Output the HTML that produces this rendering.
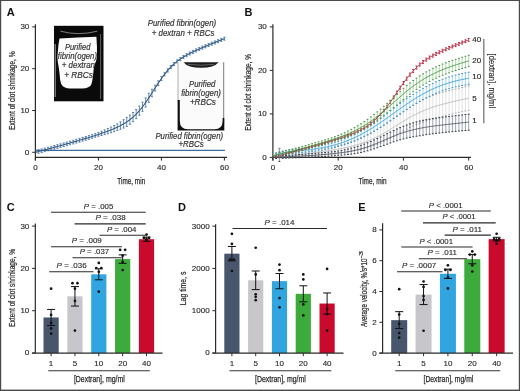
<!DOCTYPE html>
<html><head><meta charset="utf-8"><style>
html,body{margin:0;padding:0;background:#fff;}
svg{display:block;will-change:transform;font-family:"Liberation Sans", sans-serif;}
</style></head><body>
<svg width="520" height="391" viewBox="0 0 520 391">
<rect x="0" y="0" width="520" height="391" fill="#fff"/>
<rect x="0" y="0" width="520" height="1" fill="#4a4a4a"/>
<rect x="0" y="0" width="1.2" height="391" fill="#4a4a4a"/>
<rect x="518.8" y="0" width="1.2" height="391" fill="#4a4a4a"/>
<rect x="0" y="389.6" width="520" height="1.4" fill="#4a4a4a"/>
<text x="6.80" y="16.20" font-size="11" fill="#111" font-weight="bold" >A</text>
<line x1="35.40" y1="24.30" x2="35.40" y2="160.50" stroke="#2a2a2a" stroke-width="1.2" />
<line x1="32.20" y1="152.30" x2="35.40" y2="152.30" stroke="#2a2a2a" stroke-width="1" />
<text x="29.30" y="154.70" font-size="8" fill="#262626" stroke="#262626" stroke-width="0.12" text-anchor="end" >0</text>
<line x1="32.20" y1="110.50" x2="35.40" y2="110.50" stroke="#2a2a2a" stroke-width="1" />
<text x="29.30" y="112.90" font-size="8" fill="#262626" stroke="#262626" stroke-width="0.12" text-anchor="end" >10</text>
<line x1="32.20" y1="68.70" x2="35.40" y2="68.70" stroke="#2a2a2a" stroke-width="1" />
<text x="29.30" y="71.10" font-size="8" fill="#262626" stroke="#262626" stroke-width="0.12" text-anchor="end" >20</text>
<line x1="32.20" y1="26.90" x2="35.40" y2="26.90" stroke="#2a2a2a" stroke-width="1" />
<text x="29.30" y="29.30" font-size="8" fill="#262626" stroke="#262626" stroke-width="0.12" text-anchor="end" >30</text>
<line x1="35.40" y1="157.40" x2="227.00" y2="157.40" stroke="#2a2a2a" stroke-width="1.2" />
<line x1="35.40" y1="157.40" x2="35.40" y2="160.60" stroke="#2a2a2a" stroke-width="1" />
<text x="35.40" y="170.40" font-size="8" fill="#262626" stroke="#262626" stroke-width="0.12" text-anchor="middle" >0</text>
<line x1="98.40" y1="157.40" x2="98.40" y2="160.60" stroke="#2a2a2a" stroke-width="1" />
<text x="98.40" y="170.40" font-size="8" fill="#262626" stroke="#262626" stroke-width="0.12" text-anchor="middle" >20</text>
<line x1="161.40" y1="157.40" x2="161.40" y2="160.60" stroke="#2a2a2a" stroke-width="1" />
<text x="161.40" y="170.40" font-size="8" fill="#262626" stroke="#262626" stroke-width="0.12" text-anchor="middle" >40</text>
<line x1="224.40" y1="157.40" x2="224.40" y2="160.60" stroke="#2a2a2a" stroke-width="1" />
<text x="224.40" y="170.40" font-size="8" fill="#262626" stroke="#262626" stroke-width="0.12" text-anchor="middle" >60</text>
<text x="117.30" y="183.60" font-size="9.8" fill="#262626" stroke="#262626" stroke-width="0.25" textLength="27.9" lengthAdjust="spacingAndGlyphs" >Time, min</text>
<text x="14.80" y="130.00" font-size="8.8" fill="#262626" stroke="#262626" stroke-width="0.2" textLength="78.6" lengthAdjust="spacingAndGlyphs" transform="rotate(-90 14.80 130.00)" >Extent of clot shrinkage, %</text>
<line x1="35.40" y1="150.40" x2="225.00" y2="150.40" stroke="#3e6d9c" stroke-width="1.2" />
<path d="M38.55,149.73V153.25M37.45,149.73h2.2M37.45,153.25h2.2M41.70,148.91V152.44M40.60,148.91h2.2M40.60,152.44h2.2M44.85,148.07V151.62M43.75,148.07h2.2M43.75,151.62h2.2M48.00,147.24V150.80M46.90,147.24h2.2M46.90,150.80h2.2M51.15,146.39V149.97M50.05,146.39h2.2M50.05,149.97h2.2M54.30,145.54V149.12M53.20,145.54h2.2M53.20,149.12h2.2M57.45,144.68V148.28M56.35,144.68h2.2M56.35,148.28h2.2M60.60,143.81V147.42M59.50,143.81h2.2M59.50,147.42h2.2M63.75,142.93V146.55M62.65,142.93h2.2M62.65,146.55h2.2M66.90,142.05V145.68M65.80,142.05h2.2M65.80,145.68h2.2M70.05,141.15V144.80M68.95,141.15h2.2M68.95,144.80h2.2M73.20,140.25V143.91M72.10,140.25h2.2M72.10,143.91h2.2M76.35,139.33V143.01M75.25,139.33h2.2M75.25,143.01h2.2M79.50,138.41V142.10M78.40,138.41h2.2M78.40,142.10h2.2M82.65,137.48V141.18M81.55,137.48h2.2M81.55,141.18h2.2M85.80,136.53V140.24M84.70,136.53h2.2M84.70,140.24h2.2M88.95,135.56V139.29M87.85,135.56h2.2M87.85,139.29h2.2M92.10,134.58V138.32M91.00,134.58h2.2M91.00,138.32h2.2M95.25,133.58V137.33M94.15,133.58h2.2M94.15,137.33h2.2M98.40,132.55V136.31M97.30,132.55h2.2M97.30,136.31h2.2M101.55,131.25V135.50M100.45,131.25h2.2M100.45,135.50h2.2M104.70,129.91V134.64M103.60,129.91h2.2M103.60,134.64h2.2M107.85,128.51V133.74M106.75,128.51h2.2M106.75,133.74h2.2M111.00,127.05V132.76M109.90,127.05h2.2M109.90,132.76h2.2M114.15,125.50V131.70M113.05,125.50h2.2M113.05,131.70h2.2M117.30,123.84V130.52M116.20,123.84h2.2M116.20,130.52h2.2M120.45,121.86V129.38M119.35,121.86h2.2M119.35,129.38h2.2M123.60,119.70V128.06M122.50,119.70h2.2M122.50,128.06h2.2M126.75,117.31V126.50M125.65,117.31h2.2M125.65,126.50h2.2M129.90,115.05V124.25M128.80,115.05h2.2M128.80,124.25h2.2M133.05,112.46V121.66M131.95,112.46h2.2M131.95,121.66h2.2M136.20,109.48V118.68M135.10,109.48h2.2M135.10,118.68h2.2M139.35,106.07V115.26M138.25,106.07h2.2M138.25,115.26h2.2M142.50,102.20V111.40M141.40,102.20h2.2M141.40,111.40h2.2M145.65,97.92V107.11M144.55,97.92h2.2M144.55,107.11h2.2M148.80,93.28V102.47M147.70,93.28h2.2M147.70,102.47h2.2M151.95,89.24V96.76M150.85,89.24h2.2M150.85,96.76h2.2M155.10,85.12V90.98M154.00,85.12h2.2M154.00,90.98h2.2M158.25,80.86V85.51M157.15,80.86h2.2M157.15,85.51h2.2M161.40,76.61V80.53M160.30,76.61h2.2M160.30,80.53h2.2M164.55,72.72V75.89M163.45,72.72h2.2M163.45,75.89h2.2M167.70,68.87V72.04M166.60,68.87h2.2M166.60,72.04h2.2M170.85,65.46V68.62M169.75,65.46h2.2M169.75,68.62h2.2M174.00,62.46V65.61M172.90,62.46h2.2M172.90,65.61h2.2M177.15,59.83V62.97M176.05,59.83h2.2M176.05,62.97h2.2M180.30,57.52V60.65M179.20,57.52h2.2M179.20,60.65h2.2M183.45,55.46V58.58M182.35,55.46h2.2M182.35,58.58h2.2M186.60,53.60V56.72M185.50,53.60h2.2M185.50,56.72h2.2M189.75,51.91V55.02M188.65,51.91h2.2M188.65,55.02h2.2M192.90,50.34V53.44M191.80,50.34h2.2M191.80,53.44h2.2M196.05,48.86V51.95M194.95,48.86h2.2M194.95,51.95h2.2M199.20,47.45V50.53M198.10,47.45h2.2M198.10,50.53h2.2M202.35,46.10V49.17M201.25,46.10h2.2M201.25,49.17h2.2M205.50,44.77V47.84M204.40,44.77h2.2M204.40,47.84h2.2M208.65,43.48V46.53M207.55,43.48h2.2M207.55,46.53h2.2M211.80,42.20V45.24M210.70,42.20h2.2M210.70,45.24h2.2M214.95,40.93V43.96M213.85,40.93h2.2M213.85,43.96h2.2M218.10,39.67V42.69M217.00,39.67h2.2M217.00,42.69h2.2M221.25,38.41V41.42M220.15,38.41h2.2M220.15,41.42h2.2M224.40,37.15V40.16M223.30,37.15h2.2M223.30,40.16h2.2" stroke="#3d6896" stroke-width="0.75" fill="none"/>
<path d="M35.40,152.30 L36.19,152.10 L36.98,151.90 L37.76,151.69 L38.55,151.49 L39.34,151.29 L40.12,151.08 L40.91,150.88 L41.70,150.67 L42.49,150.47 L43.27,150.26 L44.06,150.06 L44.85,149.85 L45.64,149.64 L46.42,149.43 L47.21,149.23 L48.00,149.02 L48.79,148.81 L49.57,148.60 L50.36,148.39 L51.15,148.18 L51.94,147.97 L52.72,147.76 L53.51,147.54 L54.30,147.33 L55.09,147.12 L55.88,146.90 L56.66,146.69 L57.45,146.48 L58.24,146.26 L59.02,146.05 L59.81,145.83 L60.60,145.61 L61.39,145.40 L62.17,145.18 L62.96,144.96 L63.75,144.74 L64.54,144.52 L65.33,144.30 L66.11,144.08 L66.90,143.86 L67.69,143.64 L68.47,143.42 L69.26,143.20 L70.05,142.98 L70.84,142.75 L71.62,142.53 L72.41,142.30 L73.20,142.08 L73.99,141.85 L74.78,141.63 L75.56,141.40 L76.35,141.17 L77.14,140.94 L77.92,140.71 L78.71,140.49 L79.50,140.25 L80.29,140.02 L81.07,139.79 L81.86,139.56 L82.65,139.33 L83.44,139.09 L84.22,138.86 L85.01,138.62 L85.80,138.38 L86.59,138.15 L87.38,137.91 L88.16,137.67 L88.95,137.43 L89.74,137.18 L90.53,136.94 L91.31,136.70 L92.10,136.45 L92.89,136.20 L93.67,135.95 L94.46,135.70 L95.25,135.45 L96.04,135.20 L96.82,134.94 L97.61,134.69 L98.40,134.43 L99.19,134.17 L99.97,133.90 L100.76,133.64 L101.55,133.37 L102.34,133.10 L103.12,132.83 L103.91,132.55 L104.70,132.27 L105.49,131.99 L106.28,131.71 L107.06,131.42 L107.85,131.12 L108.64,130.83 L109.42,130.52 L110.21,130.22 L111.00,129.90 L111.79,129.59 L112.57,129.26 L113.36,128.93 L114.15,128.60 L114.94,128.26 L115.72,127.91 L116.51,127.55 L117.30,127.18 L118.09,126.80 L118.88,126.42 L119.66,126.02 L120.45,125.62 L121.24,125.20 L122.03,124.77 L122.81,124.33 L123.60,123.88 L124.39,123.41 L125.17,122.92 L125.96,122.42 L126.75,121.90 L127.54,121.37 L128.32,120.82 L129.11,120.24 L129.90,119.65 L130.69,119.04 L131.47,118.40 L132.26,117.74 L133.05,117.06 L133.84,116.35 L134.62,115.62 L135.41,114.86 L136.20,114.08 L136.99,113.27 L137.78,112.43 L138.56,111.56 L139.35,110.66 L140.14,109.74 L140.92,108.79 L141.71,107.81 L142.50,106.80 L143.29,105.77 L144.07,104.71 L144.86,103.62 L145.65,102.51 L146.44,101.38 L147.22,100.23 L148.01,99.06 L148.80,97.87 L149.59,96.67 L150.38,95.46 L151.16,94.23 L151.95,93.00 L152.74,91.76 L153.53,90.52 L154.31,89.29 L155.10,88.05 L155.89,86.82 L156.67,85.60 L157.46,84.39 L158.25,83.19 L159.04,82.01 L159.82,80.84 L160.61,79.69 L161.40,78.57 L162.19,77.47 L162.97,76.39 L163.76,75.33 L164.55,74.30 L165.34,73.30 L166.12,72.33 L166.91,71.38 L167.70,70.46 L168.49,69.56 L169.28,68.70 L170.06,67.85 L170.85,67.04 L171.64,66.25 L172.43,65.49 L173.21,64.75 L174.00,64.04 L174.79,63.35 L175.57,62.68 L176.36,62.03 L177.15,61.40 L177.94,60.80 L178.72,60.21 L179.51,59.64 L180.30,59.08 L181.09,58.54 L181.88,58.02 L182.66,57.51 L183.45,57.02 L184.24,56.54 L185.03,56.07 L185.81,55.61 L186.60,55.16 L187.39,54.72 L188.18,54.29 L188.96,53.87 L189.75,53.46 L190.54,53.06 L191.32,52.66 L192.11,52.27 L192.90,51.89 L193.69,51.51 L194.47,51.14 L195.26,50.77 L196.05,50.41 L196.84,50.05 L197.62,49.69 L198.41,49.34 L199.20,48.99 L199.99,48.65 L200.78,48.31 L201.56,47.97 L202.35,47.63 L203.14,47.30 L203.93,46.96 L204.71,46.63 L205.50,46.30 L206.29,45.98 L207.07,45.65 L207.86,45.33 L208.65,45.00 L209.44,44.68 L210.22,44.36 L211.01,44.04 L211.80,43.72 L212.59,43.40 L213.38,43.08 L214.16,42.76 L214.95,42.45 L215.74,42.13 L216.53,41.81 L217.31,41.50 L218.10,41.18 L218.89,40.86 L219.68,40.55 L220.46,40.23 L221.25,39.92 L222.04,39.60 L222.82,39.28 L223.61,38.97 L224.40,38.65" stroke="#2f5a86" stroke-width="1.1" fill="none"/>
<rect x="54" y="25.8" width="49.5" height="75.5" fill="#0a0a0a"/>
<path d="M60.4,31.2 Q78.5,36 97.3,31.2" stroke="#8a8a8a" stroke-width="0.9" fill="none"/>
<path d="M59.5,38.6 Q78,37.2 96.4,36.8 Q97.3,47 96.9,57 Q96.4,61 94.8,64 Q93.6,68 93.2,74 Q92.6,80 91.5,84 Q89.8,88.4 82,88.5 L70,88.6 Q63.5,88.4 61.2,84 Q59.8,80 59.6,74 Q59.0,68 57.8,62 Q57.0,57 57.8,52 Q58.4,44 59.5,38.6 Z" fill="#fcfcfc"/>
<line x1="100.6" y1="34" x2="100.6" y2="99" stroke="#6a6a6a" stroke-width="0.9"/>
<line x1="55.2" y1="44" x2="55.2" y2="97" stroke="#cfcfcf" stroke-width="0.8"/>
<text x="77.65" y="49.50" font-size="8.5" fill="#333" stroke="#333" stroke-width="0.18" text-anchor="middle" font-style="italic" textLength="25.5" lengthAdjust="spacingAndGlyphs" >Purified</text>
<text x="77.40" y="58.80" font-size="8.5" fill="#333" stroke="#333" stroke-width="0.18" text-anchor="middle" font-style="italic" textLength="39.2" lengthAdjust="spacingAndGlyphs" >fibrin(ogen)</text>
<text x="78.40" y="68.10" font-size="8.5" fill="#333" stroke="#333" stroke-width="0.18" text-anchor="middle" font-style="italic" textLength="33.2" lengthAdjust="spacingAndGlyphs" >+ dextran</text>
<text x="78.50" y="77.80" font-size="8.5" fill="#333" stroke="#333" stroke-width="0.18" text-anchor="middle" font-style="italic" textLength="28.6" lengthAdjust="spacingAndGlyphs" >+ RBCs</text>
<rect x="177.6" y="61.8" width="46.7" height="68.6" fill="#fbfbfb"/>
<line x1="178.0" y1="62.3" x2="178.0" y2="101" stroke="#9a9a9a" stroke-width="0.8"/>
<line x1="223.7" y1="62.3" x2="223.7" y2="124" stroke="#7a7a7a" stroke-width="1.0"/>
<path d="M177.6,100 H179.8 V121 Q179.8,129.2 188,129.2 H214.5 Q222.6,129.2 222.6,121 V118 H224.3 V130.4 H177.6 Z" fill="#101010"/>
<path d="M183.5,62.2 H218.7 Q214,67.8 201,67.8 Q188,67.8 183.5,62.2 Z" fill="#1c1c1c"/>
<path d="M188,64.3 Q201,66.2 214,64.3" stroke="#6a6a6a" stroke-width="0.9" fill="none"/>
<text x="202.15" y="86.60" font-size="8.5" fill="#333" stroke="#333" stroke-width="0.18" text-anchor="middle" font-style="italic" textLength="26.3" lengthAdjust="spacingAndGlyphs" >Purified</text>
<text x="201.10" y="96.00" font-size="8.5" fill="#333" stroke="#333" stroke-width="0.18" text-anchor="middle" font-style="italic" textLength="39.8" lengthAdjust="spacingAndGlyphs" >fibrin(ogen)</text>
<text x="202.85" y="105.40" font-size="8.5" fill="#333" stroke="#333" stroke-width="0.18" text-anchor="middle" font-style="italic" textLength="25.9" lengthAdjust="spacingAndGlyphs" >+RBCs</text>
<text x="181.95" y="26.40" font-size="8.5" fill="#333" stroke="#333" stroke-width="0.18" text-anchor="middle" font-style="italic" textLength="68.3" lengthAdjust="spacingAndGlyphs" >Purified fibrin(ogen)</text>
<text x="183.10" y="35.60" font-size="8.5" fill="#333" stroke="#333" stroke-width="0.18" text-anchor="middle" font-style="italic" textLength="62.6" lengthAdjust="spacingAndGlyphs" >+ dextran + RBCs</text>
<text x="189.25" y="138.50" font-size="8.5" fill="#333" stroke="#333" stroke-width="0.18" text-anchor="middle" font-style="italic" textLength="67.7" lengthAdjust="spacingAndGlyphs" >Purified fibrin(ogen)</text>
<text x="191.15" y="147.40" font-size="8.5" fill="#333" stroke="#333" stroke-width="0.18" text-anchor="middle" font-style="italic" textLength="25.3" lengthAdjust="spacingAndGlyphs" >+RBCs</text>
<text x="244.60" y="16.20" font-size="11" fill="#111" font-weight="bold" >B</text>
<line x1="272.90" y1="24.30" x2="272.90" y2="160.50" stroke="#2a2a2a" stroke-width="1.2" />
<line x1="269.70" y1="157.40" x2="272.90" y2="157.40" stroke="#2a2a2a" stroke-width="1" />
<text x="266.80" y="159.80" font-size="8" fill="#262626" stroke="#262626" stroke-width="0.12" text-anchor="end" >0</text>
<line x1="269.70" y1="113.90" x2="272.90" y2="113.90" stroke="#2a2a2a" stroke-width="1" />
<text x="266.80" y="116.30" font-size="8" fill="#262626" stroke="#262626" stroke-width="0.12" text-anchor="end" >10</text>
<line x1="269.70" y1="70.40" x2="272.90" y2="70.40" stroke="#2a2a2a" stroke-width="1" />
<text x="266.80" y="72.80" font-size="8" fill="#262626" stroke="#262626" stroke-width="0.12" text-anchor="end" >20</text>
<line x1="269.70" y1="26.90" x2="272.90" y2="26.90" stroke="#2a2a2a" stroke-width="1" />
<text x="266.80" y="29.30" font-size="8" fill="#262626" stroke="#262626" stroke-width="0.12" text-anchor="end" >30</text>
<line x1="272.90" y1="157.40" x2="471.00" y2="157.40" stroke="#2a2a2a" stroke-width="1.2" />
<line x1="272.90" y1="157.40" x2="272.90" y2="160.60" stroke="#2a2a2a" stroke-width="1" />
<text x="272.90" y="170.10" font-size="8" fill="#262626" stroke="#262626" stroke-width="0.12" text-anchor="middle" >0</text>
<line x1="338.17" y1="157.40" x2="338.17" y2="160.60" stroke="#2a2a2a" stroke-width="1" />
<text x="338.17" y="170.10" font-size="8" fill="#262626" stroke="#262626" stroke-width="0.12" text-anchor="middle" >20</text>
<line x1="403.43" y1="157.40" x2="403.43" y2="160.60" stroke="#2a2a2a" stroke-width="1" />
<text x="403.43" y="170.10" font-size="8" fill="#262626" stroke="#262626" stroke-width="0.12" text-anchor="middle" >40</text>
<line x1="468.70" y1="157.40" x2="468.70" y2="160.60" stroke="#2a2a2a" stroke-width="1" />
<text x="468.70" y="170.10" font-size="8" fill="#262626" stroke="#262626" stroke-width="0.12" text-anchor="middle" >60</text>
<text x="358.50" y="183.70" font-size="9.6" fill="#262626" stroke="#262626" stroke-width="0.25" textLength="28" lengthAdjust="spacingAndGlyphs" >Time, min</text>
<text x="250.80" y="130.80" font-size="8.8" fill="#262626" stroke="#262626" stroke-width="0.2" textLength="76.7" lengthAdjust="spacingAndGlyphs" transform="rotate(-90 250.80 130.80)" >Extent of clot shrinkage, %</text>
<path d="M276.16,155.64V158.47M279.43,155.20V158.24M282.69,154.75V158.01M285.95,154.30V157.78M289.22,153.84V157.54M292.48,153.37V157.29M295.74,152.90V157.03M299.01,152.42V156.77M302.27,151.93V156.50M305.53,151.43V156.22M308.80,150.92V155.93M312.06,150.40V155.62M315.32,149.87V155.31M318.59,149.33V154.98M321.85,148.76V154.64M325.11,148.18V154.27M328.38,147.58V153.89M331.64,146.96V153.48M334.90,146.30V153.04M338.17,145.61V152.57M341.43,144.64V152.30M344.69,143.63V151.98M347.96,142.57V151.61M351.22,141.44V151.19M354.48,140.25V150.69M357.75,138.97V150.11M361.01,137.61V149.44M364.27,136.14V148.67M367.54,134.57V147.80M370.80,132.88V146.80M374.06,131.07V145.69M377.33,129.14V144.45M380.59,127.09V143.09M383.85,124.92V141.62M387.12,122.66V140.06M390.38,120.45V138.28M393.64,118.19V136.46M396.91,115.90V134.61M400.17,113.63V132.77M403.43,111.39V130.96M406.70,109.21V129.22M409.96,107.12V127.56M413.22,105.13V126.01M416.49,103.24V124.56M419.75,101.47V123.22M423.01,99.82V122.00M426.28,98.27V120.89M429.54,96.83V119.88M432.80,95.47V118.96M436.07,94.20V118.13M439.33,93.20V117.17M442.59,92.26V116.27M445.86,91.37V115.42M449.12,90.52V114.62M452.38,89.72V113.86M455.65,88.94V113.13M458.91,88.20V112.42M462.17,87.47V111.74M465.44,86.75V111.07M468.70,86.05V110.41" stroke="#cfcfcf" stroke-width="0.6" fill="none"/>
<path d="M275.26,155.64h1.8M275.26,158.47h1.8M278.53,155.20h1.8M278.53,158.24h1.8M281.79,154.75h1.8M281.79,158.01h1.8M285.05,154.30h1.8M285.05,157.78h1.8M288.32,153.84h1.8M288.32,157.54h1.8M291.58,153.37h1.8M291.58,157.29h1.8M294.84,152.90h1.8M294.84,157.03h1.8M298.11,152.42h1.8M298.11,156.77h1.8M301.37,151.93h1.8M301.37,156.50h1.8M304.63,151.43h1.8M304.63,156.22h1.8M307.90,150.92h1.8M307.90,155.93h1.8M311.16,150.40h1.8M311.16,155.62h1.8M314.42,149.87h1.8M314.42,155.31h1.8M317.69,149.33h1.8M317.69,154.98h1.8M320.95,148.76h1.8M320.95,154.64h1.8M324.21,148.18h1.8M324.21,154.27h1.8M327.48,147.58h1.8M327.48,153.89h1.8M330.74,146.96h1.8M330.74,153.48h1.8M334.00,146.30h1.8M334.00,153.04h1.8M337.27,145.61h1.8M337.27,152.57h1.8M340.53,144.64h1.8M340.53,152.30h1.8M343.79,143.63h1.8M343.79,151.98h1.8M347.06,142.57h1.8M347.06,151.61h1.8M350.32,141.44h1.8M350.32,151.19h1.8M353.58,140.25h1.8M353.58,150.69h1.8M356.85,138.97h1.8M356.85,150.11h1.8M360.11,137.61h1.8M360.11,149.44h1.8M363.37,136.14h1.8M363.37,148.67h1.8M366.64,134.57h1.8M366.64,147.80h1.8M369.90,132.88h1.8M369.90,146.80h1.8M373.16,131.07h1.8M373.16,145.69h1.8M376.43,129.14h1.8M376.43,144.45h1.8M379.69,127.09h1.8M379.69,143.09h1.8M382.95,124.92h1.8M382.95,141.62h1.8M386.22,122.66h1.8M386.22,140.06h1.8M389.48,120.45h1.8M389.48,138.28h1.8M392.74,118.19h1.8M392.74,136.46h1.8M396.01,115.90h1.8M396.01,134.61h1.8M399.27,113.63h1.8M399.27,132.77h1.8M402.53,111.39h1.8M402.53,130.96h1.8M405.80,109.21h1.8M405.80,129.22h1.8M409.06,107.12h1.8M409.06,127.56h1.8M412.32,105.13h1.8M412.32,126.01h1.8M415.59,103.24h1.8M415.59,124.56h1.8M418.85,101.47h1.8M418.85,123.22h1.8M422.11,99.82h1.8M422.11,122.00h1.8M425.38,98.27h1.8M425.38,120.89h1.8M428.64,96.83h1.8M428.64,119.88h1.8M431.90,95.47h1.8M431.90,118.96h1.8M435.17,94.20h1.8M435.17,118.13h1.8M438.43,93.20h1.8M438.43,117.17h1.8M441.69,92.26h1.8M441.69,116.27h1.8M444.96,91.37h1.8M444.96,115.42h1.8M448.22,90.52h1.8M448.22,114.62h1.8M451.48,89.72h1.8M451.48,113.86h1.8M454.75,88.94h1.8M454.75,113.13h1.8M458.01,88.20h1.8M458.01,112.42h1.8M461.27,87.47h1.8M461.27,111.74h1.8M464.54,86.75h1.8M464.54,111.07h1.8M467.80,86.05h1.8M467.80,110.41h1.8" stroke="#a8a8a8" stroke-width="1.0" fill="none"/>
<path d="M272.90,157.38 L273.72,157.30 L274.53,157.22 L275.35,157.14 L276.16,157.05 L276.98,156.97 L277.79,156.89 L278.61,156.80 L279.43,156.72 L280.24,156.64 L281.06,156.55 L281.87,156.47 L282.69,156.38 L283.51,156.30 L284.32,156.21 L285.14,156.12 L285.95,156.04 L286.77,155.95 L287.58,155.86 L288.40,155.78 L289.22,155.69 L290.03,155.60 L290.85,155.51 L291.66,155.42 L292.48,155.33 L293.30,155.24 L294.11,155.15 L294.93,155.06 L295.74,154.97 L296.56,154.87 L297.38,154.78 L298.19,154.69 L299.01,154.59 L299.82,154.50 L300.64,154.40 L301.45,154.31 L302.27,154.21 L303.09,154.12 L303.90,154.02 L304.72,153.92 L305.53,153.82 L306.35,153.73 L307.16,153.63 L307.98,153.53 L308.80,153.42 L309.61,153.32 L310.43,153.22 L311.24,153.12 L312.06,153.01 L312.88,152.91 L313.69,152.80 L314.51,152.70 L315.32,152.59 L316.14,152.48 L316.95,152.37 L317.77,152.26 L318.59,152.15 L319.40,152.04 L320.22,151.93 L321.03,151.82 L321.85,151.70 L322.67,151.58 L323.48,151.47 L324.30,151.35 L325.11,151.23 L325.93,151.11 L326.75,150.99 L327.56,150.86 L328.38,150.74 L329.19,150.61 L330.01,150.48 L330.82,150.35 L331.64,150.22 L332.46,150.08 L333.27,149.95 L334.09,149.81 L334.90,149.67 L335.72,149.53 L336.53,149.39 L337.35,149.24 L338.17,149.09 L338.98,148.94 L339.80,148.79 L340.61,148.63 L341.43,148.47 L342.25,148.31 L343.06,148.15 L343.88,147.98 L344.69,147.81 L345.51,147.63 L346.32,147.46 L347.14,147.28 L347.96,147.09 L348.77,146.90 L349.59,146.71 L350.40,146.51 L351.22,146.31 L352.04,146.11 L352.85,145.90 L353.67,145.68 L354.48,145.47 L355.30,145.24 L356.12,145.01 L356.93,144.78 L357.75,144.54 L358.56,144.29 L359.38,144.04 L360.19,143.79 L361.01,143.52 L361.83,143.25 L362.64,142.98 L363.46,142.70 L364.27,142.41 L365.09,142.11 L365.90,141.81 L366.72,141.50 L367.54,141.18 L368.35,140.86 L369.17,140.53 L369.98,140.19 L370.80,139.84 L371.62,139.49 L372.43,139.13 L373.25,138.76 L374.06,138.38 L374.88,138.00 L375.69,137.60 L376.51,137.20 L377.33,136.80 L378.14,136.38 L378.96,135.96 L379.77,135.53 L380.59,135.09 L381.41,134.65 L382.22,134.19 L383.04,133.74 L383.85,133.27 L384.67,132.80 L385.49,132.33 L386.30,131.84 L387.12,131.36 L387.93,130.87 L388.75,130.37 L389.56,129.87 L390.38,129.37 L391.20,128.86 L392.01,128.35 L392.83,127.84 L393.64,127.32 L394.46,126.81 L395.27,126.29 L396.09,125.77 L396.91,125.26 L397.72,124.74 L398.54,124.22 L399.35,123.71 L400.17,123.20 L400.99,122.69 L401.80,122.18 L402.62,121.68 L403.43,121.18 L404.25,120.68 L405.06,120.19 L405.88,119.70 L406.70,119.22 L407.51,118.74 L408.33,118.27 L409.14,117.80 L409.96,117.34 L410.78,116.89 L411.59,116.44 L412.41,116.00 L413.22,115.57 L414.04,115.14 L414.86,114.72 L415.67,114.31 L416.49,113.90 L417.30,113.50 L418.12,113.11 L418.93,112.73 L419.75,112.35 L420.57,111.98 L421.38,111.62 L422.20,111.26 L423.01,110.91 L423.83,110.57 L424.64,110.23 L425.46,109.90 L426.28,109.58 L427.09,109.27 L427.91,108.96 L428.72,108.65 L429.54,108.35 L430.36,108.06 L431.17,107.77 L431.99,107.49 L432.80,107.22 L433.62,106.95 L434.44,106.68 L435.25,106.42 L436.07,106.16 L436.88,105.91 L437.70,105.66 L438.51,105.42 L439.33,105.18 L440.15,104.95 L440.96,104.71 L441.78,104.49 L442.59,104.26 L443.41,104.04 L444.23,103.82 L445.04,103.61 L445.86,103.40 L446.67,103.19 L447.49,102.98 L448.30,102.78 L449.12,102.57 L449.94,102.37 L450.75,102.18 L451.57,101.98 L452.38,101.79 L453.20,101.60 L454.01,101.41 L454.83,101.22 L455.65,101.04 L456.46,100.85 L457.28,100.67 L458.09,100.49 L458.91,100.31 L459.73,100.13 L460.54,99.95 L461.36,99.78 L462.17,99.60 L462.99,99.43 L463.81,99.26 L464.62,99.08 L465.44,98.91 L466.25,98.74 L467.07,98.57 L467.88,98.40 L468.70,98.23" stroke="#b0b0b0" stroke-width="0.8" fill="none"/>
<path d="M276.16,155.93V158.54M279.43,152.73V161.43M282.69,155.63V158.24M285.95,155.42V158.13M289.22,155.21V158.02M292.48,155.00V157.91M295.74,154.78V157.80M299.01,154.56V157.68M302.27,154.33V157.56M305.53,154.10V157.43M308.80,153.86V157.29M312.06,153.61V157.14M315.32,153.35V156.99M318.59,153.08V156.82M321.85,152.79V156.63M325.11,152.49V156.43M328.38,152.16V156.20M331.64,151.81V155.95M334.90,151.42V155.67M338.17,151.00V155.35M341.43,150.38V155.13M344.69,149.71V154.87M347.96,148.98V154.54M351.22,148.18V154.15M354.48,147.30V153.68M357.75,146.33V153.12M361.01,145.27V152.46M364.27,144.11V151.71M367.54,142.85V150.86M370.80,141.49V149.90M374.06,140.05V148.86M377.33,138.52V147.75M380.59,136.94V146.57M383.85,135.33V145.36M387.12,133.71V144.15M390.38,132.10V142.97M393.64,130.53V141.84M396.91,129.02V140.77M400.17,127.60V139.78M403.43,126.27V138.88M406.70,125.03V138.08M409.96,123.88V137.37M413.22,122.83V136.75M416.49,121.86V136.21M419.75,120.96V135.75M423.01,120.30V135.18M426.28,119.70V134.66M429.54,119.14V134.19M432.80,118.63V133.77M436.07,118.15V133.37M439.33,117.69V133.00M442.59,117.26V132.65M445.86,116.84V132.32M449.12,116.43V132.00M452.38,116.03V131.69M455.65,115.64V131.39M458.91,115.25V131.09M462.17,114.86V130.79M465.44,114.48V130.49M468.70,114.09V130.18" stroke="#5e6678" stroke-width="0.6" fill="none"/>
<path d="M275.26,155.93h1.8M275.26,158.54h1.8M278.53,152.73h1.8M278.53,161.43h1.8M281.79,155.63h1.8M281.79,158.24h1.8M285.05,155.42h1.8M285.05,158.13h1.8M288.32,155.21h1.8M288.32,158.02h1.8M291.58,155.00h1.8M291.58,157.91h1.8M294.84,154.78h1.8M294.84,157.80h1.8M298.11,154.56h1.8M298.11,157.68h1.8M301.37,154.33h1.8M301.37,157.56h1.8M304.63,154.10h1.8M304.63,157.43h1.8M307.90,153.86h1.8M307.90,157.29h1.8M311.16,153.61h1.8M311.16,157.14h1.8M314.42,153.35h1.8M314.42,156.99h1.8M317.69,153.08h1.8M317.69,156.82h1.8M320.95,152.79h1.8M320.95,156.63h1.8M324.21,152.49h1.8M324.21,156.43h1.8M327.48,152.16h1.8M327.48,156.20h1.8M330.74,151.81h1.8M330.74,155.95h1.8M334.00,151.42h1.8M334.00,155.67h1.8M337.27,151.00h1.8M337.27,155.35h1.8M340.53,150.38h1.8M340.53,155.13h1.8M343.79,149.71h1.8M343.79,154.87h1.8M347.06,148.98h1.8M347.06,154.54h1.8M350.32,148.18h1.8M350.32,154.15h1.8M353.58,147.30h1.8M353.58,153.68h1.8M356.85,146.33h1.8M356.85,153.12h1.8M360.11,145.27h1.8M360.11,152.46h1.8M363.37,144.11h1.8M363.37,151.71h1.8M366.64,142.85h1.8M366.64,150.86h1.8M369.90,141.49h1.8M369.90,149.90h1.8M373.16,140.05h1.8M373.16,148.86h1.8M376.43,138.52h1.8M376.43,147.75h1.8M379.69,136.94h1.8M379.69,146.57h1.8M382.95,135.33h1.8M382.95,145.36h1.8M386.22,133.71h1.8M386.22,144.15h1.8M389.48,132.10h1.8M389.48,142.97h1.8M392.74,130.53h1.8M392.74,141.84h1.8M396.01,129.02h1.8M396.01,140.77h1.8M399.27,127.60h1.8M399.27,139.78h1.8M402.53,126.27h1.8M402.53,138.88h1.8M405.80,125.03h1.8M405.80,138.08h1.8M409.06,123.88h1.8M409.06,137.37h1.8M412.32,122.83h1.8M412.32,136.75h1.8M415.59,121.86h1.8M415.59,136.21h1.8M418.85,120.96h1.8M418.85,135.75h1.8M422.11,120.30h1.8M422.11,135.18h1.8M425.38,119.70h1.8M425.38,134.66h1.8M428.64,119.14h1.8M428.64,134.19h1.8M431.90,118.63h1.8M431.90,133.77h1.8M435.17,118.15h1.8M435.17,133.37h1.8M438.43,117.69h1.8M438.43,133.00h1.8M441.69,117.26h1.8M441.69,132.65h1.8M444.96,116.84h1.8M444.96,132.32h1.8M448.22,116.43h1.8M448.22,132.00h1.8M451.48,116.03h1.8M451.48,131.69h1.8M454.75,115.64h1.8M454.75,131.39h1.8M458.01,115.25h1.8M458.01,131.09h1.8M461.27,114.86h1.8M461.27,130.79h1.8M464.54,114.48h1.8M464.54,130.49h1.8M467.80,114.09h1.8M467.80,130.18h1.8" stroke="#2f3644" stroke-width="1.0" fill="none"/>
<path d="M272.90,157.38 L273.72,157.35 L274.53,157.31 L275.35,157.27 L276.16,157.23 L276.98,157.20 L277.79,157.16 L278.61,157.12 L279.43,157.08 L280.24,157.05 L281.06,157.01 L281.87,156.97 L282.69,156.93 L283.51,156.89 L284.32,156.85 L285.14,156.81 L285.95,156.77 L286.77,156.74 L287.58,156.70 L288.40,156.66 L289.22,156.62 L290.03,156.58 L290.85,156.54 L291.66,156.50 L292.48,156.46 L293.30,156.41 L294.11,156.37 L294.93,156.33 L295.74,156.29 L296.56,156.25 L297.38,156.21 L298.19,156.16 L299.01,156.12 L299.82,156.08 L300.64,156.03 L301.45,155.99 L302.27,155.95 L303.09,155.90 L303.90,155.86 L304.72,155.81 L305.53,155.76 L306.35,155.72 L307.16,155.67 L307.98,155.62 L308.80,155.58 L309.61,155.53 L310.43,155.48 L311.24,155.43 L312.06,155.38 L312.88,155.33 L313.69,155.28 L314.51,155.22 L315.32,155.17 L316.14,155.12 L316.95,155.06 L317.77,155.01 L318.59,154.95 L319.40,154.89 L320.22,154.83 L321.03,154.77 L321.85,154.71 L322.67,154.65 L323.48,154.59 L324.30,154.52 L325.11,154.46 L325.93,154.39 L326.75,154.32 L327.56,154.25 L328.38,154.18 L329.19,154.11 L330.01,154.03 L330.82,153.96 L331.64,153.88 L332.46,153.80 L333.27,153.72 L334.09,153.63 L334.90,153.54 L335.72,153.46 L336.53,153.36 L337.35,153.27 L338.17,153.17 L338.98,153.07 L339.80,152.97 L340.61,152.87 L341.43,152.76 L342.25,152.65 L343.06,152.53 L343.88,152.41 L344.69,152.29 L345.51,152.16 L346.32,152.03 L347.14,151.90 L347.96,151.76 L348.77,151.62 L349.59,151.47 L350.40,151.32 L351.22,151.16 L352.04,151.00 L352.85,150.84 L353.67,150.66 L354.48,150.49 L355.30,150.31 L356.12,150.12 L356.93,149.92 L357.75,149.72 L358.56,149.52 L359.38,149.31 L360.19,149.09 L361.01,148.87 L361.83,148.64 L362.64,148.40 L363.46,148.16 L364.27,147.91 L365.09,147.66 L365.90,147.40 L366.72,147.13 L367.54,146.85 L368.35,146.57 L369.17,146.29 L369.98,146.00 L370.80,145.70 L371.62,145.40 L372.43,145.09 L373.25,144.77 L374.06,144.45 L374.88,144.13 L375.69,143.80 L376.51,143.47 L377.33,143.13 L378.14,142.79 L378.96,142.45 L379.77,142.11 L380.59,141.76 L381.41,141.41 L382.22,141.05 L383.04,140.70 L383.85,140.35 L384.67,139.99 L385.49,139.64 L386.30,139.28 L387.12,138.93 L387.93,138.58 L388.75,138.23 L389.56,137.88 L390.38,137.53 L391.20,137.19 L392.01,136.85 L392.83,136.51 L393.64,136.18 L394.46,135.85 L395.27,135.53 L396.09,135.21 L396.91,134.89 L397.72,134.58 L398.54,134.28 L399.35,133.98 L400.17,133.69 L400.99,133.40 L401.80,133.12 L402.62,132.84 L403.43,132.57 L404.25,132.31 L405.06,132.05 L405.88,131.80 L406.70,131.55 L407.51,131.31 L408.33,131.08 L409.14,130.85 L409.96,130.62 L410.78,130.41 L411.59,130.20 L412.41,129.99 L413.22,129.79 L414.04,129.59 L414.86,129.40 L415.67,129.21 L416.49,129.03 L417.30,128.86 L418.12,128.68 L418.93,128.52 L419.75,128.35 L420.57,128.19 L421.38,128.04 L422.20,127.89 L423.01,127.74 L423.83,127.59 L424.64,127.45 L425.46,127.31 L426.28,127.18 L427.09,127.05 L427.91,126.92 L428.72,126.79 L429.54,126.67 L430.36,126.55 L431.17,126.43 L431.99,126.31 L432.80,126.20 L433.62,126.09 L434.44,125.97 L435.25,125.87 L436.07,125.76 L436.88,125.65 L437.70,125.55 L438.51,125.45 L439.33,125.35 L440.15,125.25 L440.96,125.15 L441.78,125.05 L442.59,124.96 L443.41,124.86 L444.23,124.77 L445.04,124.67 L445.86,124.58 L446.67,124.49 L447.49,124.40 L448.30,124.31 L449.12,124.22 L449.94,124.13 L450.75,124.04 L451.57,123.95 L452.38,123.86 L453.20,123.77 L454.01,123.69 L454.83,123.60 L455.65,123.51 L456.46,123.43 L457.28,123.34 L458.09,123.25 L458.91,123.17 L459.73,123.08 L460.54,123.00 L461.36,122.91 L462.17,122.82 L462.99,122.74 L463.81,122.65 L464.62,122.57 L465.44,122.48 L466.25,122.40 L467.07,122.31 L467.88,122.22 L468.70,122.14" stroke="#38414f" stroke-width="0.8" fill="none"/>
<path d="M276.16,152.90V156.47M279.43,151.86V155.51M282.69,151.07V154.81M285.95,150.46V154.29M289.22,149.96V153.88M292.48,149.53V153.53M295.74,149.14V153.23M299.01,148.76V152.94M302.27,148.38V152.64M305.53,147.98V152.33M308.80,147.55V151.99M312.06,147.09V151.62M315.32,146.59V151.20M318.59,146.03V150.73M321.85,145.41V150.20M325.11,144.73V149.61M328.38,143.98V148.94M331.64,143.16V148.21M334.90,142.25V147.39M338.17,141.26V146.48M341.43,140.05V145.62M344.69,138.74V144.66M347.96,137.33V143.60M351.22,135.82V142.43M354.48,134.20V141.16M357.75,132.48V139.79M361.01,130.66V138.31M364.27,128.72V136.73M367.54,126.69V135.04M370.80,124.56V133.26M374.06,122.35V131.40M377.33,120.05V129.45M380.59,117.69V127.43M383.85,115.26V125.35M387.12,112.79V123.23M390.38,110.43V120.94M393.64,108.06V118.64M396.91,105.68V116.33M400.17,103.32V114.04M403.43,100.99V111.78M406.70,98.71V109.56M409.96,96.48V107.41M413.22,94.32V105.32M416.49,92.24V103.31M419.75,90.25V101.39M423.01,88.36V99.57M426.28,86.57V97.84M429.54,84.88V96.22M432.80,83.29V94.71M436.07,81.81V93.30M439.33,80.44V91.99M442.59,79.17V90.79M445.86,78.00V89.69M449.12,76.92V88.69M452.38,75.94V87.77M455.65,75.05V86.95M458.91,74.23V86.20M462.17,73.50V85.54M465.44,72.83V84.94M468.70,72.23V84.41" stroke="#6fbde6" stroke-width="0.6" fill="none"/>
<path d="M275.26,152.90h1.8M275.26,156.47h1.8M278.53,151.86h1.8M278.53,155.51h1.8M281.79,151.07h1.8M281.79,154.81h1.8M285.05,150.46h1.8M285.05,154.29h1.8M288.32,149.96h1.8M288.32,153.88h1.8M291.58,149.53h1.8M291.58,153.53h1.8M294.84,149.14h1.8M294.84,153.23h1.8M298.11,148.76h1.8M298.11,152.94h1.8M301.37,148.38h1.8M301.37,152.64h1.8M304.63,147.98h1.8M304.63,152.33h1.8M307.90,147.55h1.8M307.90,151.99h1.8M311.16,147.09h1.8M311.16,151.62h1.8M314.42,146.59h1.8M314.42,151.20h1.8M317.69,146.03h1.8M317.69,150.73h1.8M320.95,145.41h1.8M320.95,150.20h1.8M324.21,144.73h1.8M324.21,149.61h1.8M327.48,143.98h1.8M327.48,148.94h1.8M330.74,143.16h1.8M330.74,148.21h1.8M334.00,142.25h1.8M334.00,147.39h1.8M337.27,141.26h1.8M337.27,146.48h1.8M340.53,140.05h1.8M340.53,145.62h1.8M343.79,138.74h1.8M343.79,144.66h1.8M347.06,137.33h1.8M347.06,143.60h1.8M350.32,135.82h1.8M350.32,142.43h1.8M353.58,134.20h1.8M353.58,141.16h1.8M356.85,132.48h1.8M356.85,139.79h1.8M360.11,130.66h1.8M360.11,138.31h1.8M363.37,128.72h1.8M363.37,136.73h1.8M366.64,126.69h1.8M366.64,135.04h1.8M369.90,124.56h1.8M369.90,133.26h1.8M373.16,122.35h1.8M373.16,131.40h1.8M376.43,120.05h1.8M376.43,129.45h1.8M379.69,117.69h1.8M379.69,127.43h1.8M382.95,115.26h1.8M382.95,125.35h1.8M386.22,112.79h1.8M386.22,123.23h1.8M389.48,110.43h1.8M389.48,120.94h1.8M392.74,108.06h1.8M392.74,118.64h1.8M396.01,105.68h1.8M396.01,116.33h1.8M399.27,103.32h1.8M399.27,114.04h1.8M402.53,100.99h1.8M402.53,111.78h1.8M405.80,98.71h1.8M405.80,109.56h1.8M409.06,96.48h1.8M409.06,107.41h1.8M412.32,94.32h1.8M412.32,105.32h1.8M415.59,92.24h1.8M415.59,103.31h1.8M418.85,90.25h1.8M418.85,101.39h1.8M422.11,88.36h1.8M422.11,99.57h1.8M425.38,86.57h1.8M425.38,97.84h1.8M428.64,84.88h1.8M428.64,96.22h1.8M431.90,83.29h1.8M431.90,94.71h1.8M435.17,81.81h1.8M435.17,93.30h1.8M438.43,80.44h1.8M438.43,91.99h1.8M441.69,79.17h1.8M441.69,90.79h1.8M444.96,78.00h1.8M444.96,89.69h1.8M448.22,76.92h1.8M448.22,88.69h1.8M451.48,75.94h1.8M451.48,87.77h1.8M454.75,75.05h1.8M454.75,86.95h1.8M458.01,74.23h1.8M458.01,86.20h1.8M461.27,73.50h1.8M461.27,85.54h1.8M464.54,72.83h1.8M464.54,84.94h1.8M467.80,72.23h1.8M467.80,84.41h1.8" stroke="#3a8fc2" stroke-width="1.0" fill="none"/>
<path d="M272.90,156.07 L273.72,155.68 L274.53,155.32 L275.35,154.99 L276.16,154.69 L276.98,154.41 L277.79,154.15 L278.61,153.91 L279.43,153.68 L280.24,153.48 L281.06,153.29 L281.87,153.11 L282.69,152.94 L283.51,152.79 L284.32,152.64 L285.14,152.50 L285.95,152.37 L286.77,152.25 L287.58,152.13 L288.40,152.02 L289.22,151.92 L290.03,151.82 L290.85,151.72 L291.66,151.62 L292.48,151.53 L293.30,151.44 L294.11,151.35 L294.93,151.27 L295.74,151.18 L296.56,151.10 L297.38,151.01 L298.19,150.93 L299.01,150.85 L299.82,150.76 L300.64,150.68 L301.45,150.59 L302.27,150.51 L303.09,150.42 L303.90,150.33 L304.72,150.25 L305.53,150.15 L306.35,150.06 L307.16,149.97 L307.98,149.87 L308.80,149.77 L309.61,149.67 L310.43,149.57 L311.24,149.46 L312.06,149.35 L312.88,149.24 L313.69,149.13 L314.51,149.01 L315.32,148.89 L316.14,148.77 L316.95,148.64 L317.77,148.51 L318.59,148.38 L319.40,148.24 L320.22,148.10 L321.03,147.95 L321.85,147.81 L322.67,147.65 L323.48,147.50 L324.30,147.33 L325.11,147.17 L325.93,147.00 L326.75,146.83 L327.56,146.65 L328.38,146.46 L329.19,146.28 L330.01,146.08 L330.82,145.89 L331.64,145.68 L332.46,145.48 L333.27,145.26 L334.09,145.04 L334.90,144.82 L335.72,144.59 L336.53,144.36 L337.35,144.12 L338.17,143.87 L338.98,143.62 L339.80,143.37 L340.61,143.10 L341.43,142.83 L342.25,142.56 L343.06,142.28 L343.88,141.99 L344.69,141.70 L345.51,141.40 L346.32,141.09 L347.14,140.78 L347.96,140.46 L348.77,140.14 L349.59,139.81 L350.40,139.47 L351.22,139.13 L352.04,138.78 L352.85,138.42 L353.67,138.05 L354.48,137.68 L355.30,137.31 L356.12,136.92 L356.93,136.53 L357.75,136.14 L358.56,135.73 L359.38,135.32 L360.19,134.91 L361.01,134.48 L361.83,134.05 L362.64,133.62 L363.46,133.17 L364.27,132.73 L365.09,132.27 L365.90,131.81 L366.72,131.34 L367.54,130.87 L368.35,130.39 L369.17,129.90 L369.98,129.41 L370.80,128.91 L371.62,128.41 L372.43,127.90 L373.25,127.39 L374.06,126.87 L374.88,126.35 L375.69,125.82 L376.51,125.29 L377.33,124.75 L378.14,124.21 L378.96,123.66 L379.77,123.11 L380.59,122.56 L381.41,122.00 L382.22,121.44 L383.04,120.88 L383.85,120.31 L384.67,119.74 L385.49,119.17 L386.30,118.59 L387.12,118.01 L387.93,117.43 L388.75,116.85 L389.56,116.27 L390.38,115.69 L391.20,115.10 L392.01,114.52 L392.83,113.93 L393.64,113.35 L394.46,112.76 L395.27,112.18 L396.09,111.59 L396.91,111.01 L397.72,110.42 L398.54,109.84 L399.35,109.26 L400.17,108.68 L400.99,108.10 L401.80,107.53 L402.62,106.96 L403.43,106.39 L404.25,105.82 L405.06,105.25 L405.88,104.69 L406.70,104.14 L407.51,103.58 L408.33,103.03 L409.14,102.48 L409.96,101.94 L410.78,101.40 L411.59,100.87 L412.41,100.34 L413.22,99.82 L414.04,99.30 L414.86,98.79 L415.67,98.28 L416.49,97.78 L417.30,97.28 L418.12,96.79 L418.93,96.30 L419.75,95.82 L420.57,95.35 L421.38,94.88 L422.20,94.42 L423.01,93.96 L423.83,93.51 L424.64,93.07 L425.46,92.63 L426.28,92.20 L427.09,91.78 L427.91,91.36 L428.72,90.95 L429.54,90.55 L430.36,90.15 L431.17,89.76 L431.99,89.38 L432.80,89.00 L433.62,88.63 L434.44,88.26 L435.25,87.91 L436.07,87.56 L436.88,87.21 L437.70,86.87 L438.51,86.54 L439.33,86.22 L440.15,85.90 L440.96,85.59 L441.78,85.28 L442.59,84.98 L443.41,84.69 L444.23,84.40 L445.04,84.12 L445.86,83.85 L446.67,83.58 L447.49,83.31 L448.30,83.06 L449.12,82.81 L449.94,82.56 L450.75,82.32 L451.57,82.09 L452.38,81.86 L453.20,81.63 L454.01,81.42 L454.83,81.20 L455.65,81.00 L456.46,80.79 L457.28,80.60 L458.09,80.41 L458.91,80.22 L459.73,80.04 L460.54,79.86 L461.36,79.68 L462.17,79.52 L462.99,79.35 L463.81,79.19 L464.62,79.04 L465.44,78.89 L466.25,78.74 L467.07,78.60 L467.88,78.46 L468.70,78.32" stroke="#1f8fcc" stroke-width="0.8" fill="none"/>
<path d="M276.16,155.84V157.16M279.43,154.94V156.27M282.69,154.03V155.38M285.95,153.12V154.48M289.22,152.21V153.59M292.48,151.30V152.69M295.74,150.39V151.80M299.01,149.47V150.89M302.27,148.56V149.99M305.53,147.64V149.09M308.80,146.71V148.18M312.06,145.78V147.26M315.32,144.85V146.34M318.59,143.91V145.41M321.85,142.95V144.48M325.11,141.99V143.53M328.38,141.01V142.57M331.64,140.02V141.59M334.90,139.00V140.58M338.17,137.95V139.55M341.43,136.87V138.48M344.69,135.74V137.36M347.96,134.54V136.18M351.22,133.27V134.92M354.48,131.90V133.57M357.75,130.41V132.09M361.01,128.76V130.46M364.27,126.93V128.64M367.54,124.87V126.59M370.80,122.53V124.27M374.06,119.83V121.70M377.33,116.76V118.76M380.59,113.32V115.45M383.85,109.48V111.74M387.12,105.27V107.66M390.38,100.74V103.26M393.64,95.98V98.64M396.91,91.11V93.90M400.17,86.26V89.17M403.43,81.55V84.59M406.70,77.15V80.19M409.96,73.09V76.11M413.22,69.39V72.40M416.49,66.07V69.07M419.75,63.12V66.10M423.01,60.49V63.45M426.28,58.15V61.10M429.54,56.05V58.99M432.80,54.15V57.08M436.07,52.41V55.32M439.33,50.80V53.70M442.59,49.28V52.17M445.86,47.84V50.71M449.12,46.45V49.31M452.38,45.09V47.94M455.65,43.76V46.60M458.91,42.45V45.27M462.17,41.14V43.95M465.44,39.82V42.62M468.70,38.50V41.29" stroke="#d23a55" stroke-width="0.6" fill="none"/>
<path d="M275.26,155.84h1.8M275.26,157.16h1.8M278.53,154.94h1.8M278.53,156.27h1.8M281.79,154.03h1.8M281.79,155.38h1.8M285.05,153.12h1.8M285.05,154.48h1.8M288.32,152.21h1.8M288.32,153.59h1.8M291.58,151.30h1.8M291.58,152.69h1.8M294.84,150.39h1.8M294.84,151.80h1.8M298.11,149.47h1.8M298.11,150.89h1.8M301.37,148.56h1.8M301.37,149.99h1.8M304.63,147.64h1.8M304.63,149.09h1.8M307.90,146.71h1.8M307.90,148.18h1.8M311.16,145.78h1.8M311.16,147.26h1.8M314.42,144.85h1.8M314.42,146.34h1.8M317.69,143.91h1.8M317.69,145.41h1.8M320.95,142.95h1.8M320.95,144.48h1.8M324.21,141.99h1.8M324.21,143.53h1.8M327.48,141.01h1.8M327.48,142.57h1.8M330.74,140.02h1.8M330.74,141.59h1.8M334.00,139.00h1.8M334.00,140.58h1.8M337.27,137.95h1.8M337.27,139.55h1.8M340.53,136.87h1.8M340.53,138.48h1.8M343.79,135.74h1.8M343.79,137.36h1.8M347.06,134.54h1.8M347.06,136.18h1.8M350.32,133.27h1.8M350.32,134.92h1.8M353.58,131.90h1.8M353.58,133.57h1.8M356.85,130.41h1.8M356.85,132.09h1.8M360.11,128.76h1.8M360.11,130.46h1.8M363.37,126.93h1.8M363.37,128.64h1.8M366.64,124.87h1.8M366.64,126.59h1.8M369.90,122.53h1.8M369.90,124.27h1.8M373.16,119.83h1.8M373.16,121.70h1.8M376.43,116.76h1.8M376.43,118.76h1.8M379.69,113.32h1.8M379.69,115.45h1.8M382.95,109.48h1.8M382.95,111.74h1.8M386.22,105.27h1.8M386.22,107.66h1.8M389.48,100.74h1.8M389.48,103.26h1.8M392.74,95.98h1.8M392.74,98.64h1.8M396.01,91.11h1.8M396.01,93.90h1.8M399.27,86.26h1.8M399.27,89.17h1.8M402.53,81.55h1.8M402.53,84.59h1.8M405.80,77.15h1.8M405.80,80.19h1.8M409.06,73.09h1.8M409.06,76.11h1.8M412.32,69.39h1.8M412.32,72.40h1.8M415.59,66.07h1.8M415.59,69.07h1.8M418.85,63.12h1.8M418.85,66.10h1.8M422.11,60.49h1.8M422.11,63.45h1.8M425.38,58.15h1.8M425.38,61.10h1.8M428.64,56.05h1.8M428.64,58.99h1.8M431.90,54.15h1.8M431.90,57.08h1.8M435.17,52.41h1.8M435.17,55.32h1.8M438.43,50.80h1.8M438.43,53.70h1.8M441.69,49.28h1.8M441.69,52.17h1.8M444.96,47.84h1.8M444.96,50.71h1.8M448.22,46.45h1.8M448.22,49.31h1.8M451.48,45.09h1.8M451.48,47.94h1.8M454.75,43.76h1.8M454.75,46.60h1.8M458.01,42.45h1.8M458.01,45.27h1.8M461.27,41.14h1.8M461.27,43.95h1.8M464.54,39.82h1.8M464.54,42.62h1.8M467.80,38.50h1.8M467.80,41.29h1.8" stroke="#c3112f" stroke-width="1.0" fill="none"/>
<path d="M272.90,157.40 L273.72,157.17 L274.53,156.95 L275.35,156.72 L276.16,156.50 L276.98,156.28 L277.79,156.05 L278.61,155.83 L279.43,155.60 L280.24,155.38 L281.06,155.15 L281.87,154.93 L282.69,154.70 L283.51,154.48 L284.32,154.25 L285.14,154.03 L285.95,153.80 L286.77,153.58 L287.58,153.35 L288.40,153.13 L289.22,152.90 L290.03,152.67 L290.85,152.45 L291.66,152.22 L292.48,152.00 L293.30,151.77 L294.11,151.54 L294.93,151.32 L295.74,151.09 L296.56,150.87 L297.38,150.64 L298.19,150.41 L299.01,150.18 L299.82,149.96 L300.64,149.73 L301.45,149.50 L302.27,149.27 L303.09,149.05 L303.90,148.82 L304.72,148.59 L305.53,148.36 L306.35,148.13 L307.16,147.90 L307.98,147.67 L308.80,147.44 L309.61,147.21 L310.43,146.98 L311.24,146.75 L312.06,146.52 L312.88,146.29 L313.69,146.06 L314.51,145.83 L315.32,145.59 L316.14,145.36 L316.95,145.13 L317.77,144.89 L318.59,144.66 L319.40,144.42 L320.22,144.19 L321.03,143.95 L321.85,143.72 L322.67,143.48 L323.48,143.24 L324.30,143.00 L325.11,142.76 L325.93,142.52 L326.75,142.28 L327.56,142.03 L328.38,141.79 L329.19,141.55 L330.01,141.30 L330.82,141.05 L331.64,140.80 L332.46,140.55 L333.27,140.30 L334.09,140.05 L334.90,139.79 L335.72,139.53 L336.53,139.28 L337.35,139.01 L338.17,138.75 L338.98,138.49 L339.80,138.22 L340.61,137.95 L341.43,137.67 L342.25,137.40 L343.06,137.12 L343.88,136.83 L344.69,136.55 L345.51,136.26 L346.32,135.96 L347.14,135.66 L347.96,135.36 L348.77,135.05 L349.59,134.74 L350.40,134.42 L351.22,134.10 L352.04,133.77 L352.85,133.43 L353.67,133.09 L354.48,132.73 L355.30,132.38 L356.12,132.01 L356.93,131.63 L357.75,131.25 L358.56,130.86 L359.38,130.45 L360.19,130.04 L361.01,129.61 L361.83,129.18 L362.64,128.73 L363.46,128.26 L364.27,127.79 L365.09,127.30 L365.90,126.79 L366.72,126.27 L367.54,125.73 L368.35,125.18 L369.17,124.60 L369.98,124.01 L370.80,123.40 L371.62,122.77 L372.43,122.13 L373.25,121.45 L374.06,120.76 L374.88,120.05 L375.69,119.31 L376.51,118.55 L377.33,117.76 L378.14,116.95 L378.96,116.12 L379.77,115.26 L380.59,114.38 L381.41,113.47 L382.22,112.54 L383.04,111.59 L383.85,110.61 L384.67,109.61 L385.49,108.58 L386.30,107.53 L387.12,106.46 L387.93,105.38 L388.75,104.27 L389.56,103.14 L390.38,102.00 L391.20,100.85 L392.01,99.68 L392.83,98.50 L393.64,97.31 L394.46,96.12 L395.27,94.91 L396.09,93.71 L396.91,92.51 L397.72,91.30 L398.54,90.10 L399.35,88.90 L400.17,87.72 L400.99,86.54 L401.80,85.37 L402.62,84.21 L403.43,83.07 L404.25,81.94 L405.06,80.83 L405.88,79.74 L406.70,78.67 L407.51,77.62 L408.33,76.59 L409.14,75.58 L409.96,74.60 L410.78,73.64 L411.59,72.70 L412.41,71.79 L413.22,70.89 L414.04,70.03 L414.86,69.19 L415.67,68.37 L416.49,67.57 L417.30,66.80 L418.12,66.04 L418.93,65.31 L419.75,64.61 L420.57,63.92 L421.38,63.25 L422.20,62.60 L423.01,61.97 L423.83,61.36 L424.64,60.76 L425.46,60.19 L426.28,59.62 L427.09,59.08 L427.91,58.54 L428.72,58.02 L429.54,57.52 L430.36,57.03 L431.17,56.54 L431.99,56.07 L432.80,55.61 L433.62,55.16 L434.44,54.72 L435.25,54.29 L436.07,53.87 L436.88,53.45 L437.70,53.04 L438.51,52.64 L439.33,52.25 L440.15,51.86 L440.96,51.48 L441.78,51.10 L442.59,50.73 L443.41,50.36 L444.23,49.99 L445.04,49.63 L445.86,49.28 L446.67,48.92 L447.49,48.57 L448.30,48.22 L449.12,47.88 L449.94,47.54 L450.75,47.19 L451.57,46.86 L452.38,46.52 L453.20,46.18 L454.01,45.85 L454.83,45.51 L455.65,45.18 L456.46,44.85 L457.28,44.52 L458.09,44.19 L458.91,43.86 L459.73,43.53 L460.54,43.20 L461.36,42.87 L462.17,42.54 L462.99,42.21 L463.81,41.88 L464.62,41.55 L465.44,41.22 L466.25,40.89 L467.07,40.56 L467.88,40.23 L468.70,39.89" stroke="#901a2b" stroke-width="0.8" fill="none"/>
<path d="M276.16,153.23V156.75M279.43,152.39V155.96M282.69,151.55V155.16M285.95,150.71V154.37M289.22,149.87V153.56M292.48,149.01V152.76M295.74,148.16V151.94M299.01,147.29V151.12M302.27,146.42V150.29M305.53,145.54V149.45M308.80,144.64V148.60M312.06,143.73V147.74M315.32,142.81V146.85M318.59,141.86V145.95M321.85,140.89V145.02M325.11,139.89V144.07M328.38,138.86V143.08M331.64,137.80V142.06M334.90,136.68V140.99M338.17,135.52V139.87M341.43,134.10V138.88M344.69,132.61V137.83M347.96,131.04V136.69M351.22,129.38V135.47M354.48,127.62V134.14M357.75,125.75V132.71M361.01,123.75V131.15M364.27,121.63V129.46M367.54,119.36V127.63M370.80,116.96V125.66M374.06,114.49V123.45M377.33,111.89V121.11M380.59,109.15V118.64M383.85,106.31V116.05M387.12,103.37V113.37M390.38,100.36V110.63M393.64,97.32V107.85M396.91,94.28V105.06M400.17,91.26V102.31M403.43,88.31V99.62M406.70,85.58V96.89M409.96,82.96V94.27M413.22,80.46V91.77M416.49,78.11V89.42M419.75,75.89V87.20M423.01,73.83V85.14M426.28,71.90V83.21M429.54,70.10V81.41M432.80,68.43V79.74M436.07,66.87V78.18M439.33,65.41V76.72M442.59,64.05V75.36M445.86,62.76V74.07M449.12,61.55V72.86M452.38,60.40V71.71M455.65,59.30V70.61M458.91,58.25V69.56M462.17,57.23V68.54M465.44,56.25V67.56M468.70,55.30V66.61" stroke="#76c271" stroke-width="0.6" fill="none"/>
<path d="M275.26,153.23h1.8M275.26,156.75h1.8M278.53,152.39h1.8M278.53,155.96h1.8M281.79,151.55h1.8M281.79,155.16h1.8M285.05,150.71h1.8M285.05,154.37h1.8M288.32,149.87h1.8M288.32,153.56h1.8M291.58,149.01h1.8M291.58,152.76h1.8M294.84,148.16h1.8M294.84,151.94h1.8M298.11,147.29h1.8M298.11,151.12h1.8M301.37,146.42h1.8M301.37,150.29h1.8M304.63,145.54h1.8M304.63,149.45h1.8M307.90,144.64h1.8M307.90,148.60h1.8M311.16,143.73h1.8M311.16,147.74h1.8M314.42,142.81h1.8M314.42,146.85h1.8M317.69,141.86h1.8M317.69,145.95h1.8M320.95,140.89h1.8M320.95,145.02h1.8M324.21,139.89h1.8M324.21,144.07h1.8M327.48,138.86h1.8M327.48,143.08h1.8M330.74,137.80h1.8M330.74,142.06h1.8M334.00,136.68h1.8M334.00,140.99h1.8M337.27,135.52h1.8M337.27,139.87h1.8M340.53,134.10h1.8M340.53,138.88h1.8M343.79,132.61h1.8M343.79,137.83h1.8M347.06,131.04h1.8M347.06,136.69h1.8M350.32,129.38h1.8M350.32,135.47h1.8M353.58,127.62h1.8M353.58,134.14h1.8M356.85,125.75h1.8M356.85,132.71h1.8M360.11,123.75h1.8M360.11,131.15h1.8M363.37,121.63h1.8M363.37,129.46h1.8M366.64,119.36h1.8M366.64,127.63h1.8M369.90,116.96h1.8M369.90,125.66h1.8M373.16,114.49h1.8M373.16,123.45h1.8M376.43,111.89h1.8M376.43,121.11h1.8M379.69,109.15h1.8M379.69,118.64h1.8M382.95,106.31h1.8M382.95,116.05h1.8M386.22,103.37h1.8M386.22,113.37h1.8M389.48,100.36h1.8M389.48,110.63h1.8M392.74,97.32h1.8M392.74,107.85h1.8M396.01,94.28h1.8M396.01,105.06h1.8M399.27,91.26h1.8M399.27,102.31h1.8M402.53,88.31h1.8M402.53,99.62h1.8M405.80,85.58h1.8M405.80,96.89h1.8M409.06,82.96h1.8M409.06,94.27h1.8M412.32,80.46h1.8M412.32,91.77h1.8M415.59,78.11h1.8M415.59,89.42h1.8M418.85,75.89h1.8M418.85,87.20h1.8M422.11,73.83h1.8M422.11,85.14h1.8M425.38,71.90h1.8M425.38,83.21h1.8M428.64,70.10h1.8M428.64,81.41h1.8M431.90,68.43h1.8M431.90,79.74h1.8M435.17,66.87h1.8M435.17,78.18h1.8M438.43,65.41h1.8M438.43,76.72h1.8M441.69,64.05h1.8M441.69,75.36h1.8M444.96,62.76h1.8M444.96,74.07h1.8M448.22,61.55h1.8M448.22,72.86h1.8M451.48,60.40h1.8M451.48,71.71h1.8M454.75,59.30h1.8M454.75,70.61h1.8M458.01,58.25h1.8M458.01,69.56h1.8M461.27,57.23h1.8M461.27,68.54h1.8M464.54,56.25h1.8M464.54,67.56h1.8M467.80,55.30h1.8M467.80,66.61h1.8" stroke="#4a8f45" stroke-width="1.0" fill="none"/>
<path d="M272.90,157.33 L273.72,155.74 L274.53,155.41 L275.35,155.19 L276.16,154.99 L276.98,154.79 L277.79,154.58 L278.61,154.38 L279.43,154.18 L280.24,153.97 L281.06,153.77 L281.87,153.56 L282.69,153.36 L283.51,153.15 L284.32,152.95 L285.14,152.74 L285.95,152.54 L286.77,152.33 L287.58,152.13 L288.40,151.92 L289.22,151.71 L290.03,151.51 L290.85,151.30 L291.66,151.09 L292.48,150.89 L293.30,150.68 L294.11,150.47 L294.93,150.26 L295.74,150.05 L296.56,149.84 L297.38,149.63 L298.19,149.42 L299.01,149.21 L299.82,149.00 L300.64,148.78 L301.45,148.57 L302.27,148.36 L303.09,148.14 L303.90,147.93 L304.72,147.71 L305.53,147.50 L306.35,147.28 L307.16,147.06 L307.98,146.84 L308.80,146.62 L309.61,146.40 L310.43,146.18 L311.24,145.96 L312.06,145.73 L312.88,145.51 L313.69,145.28 L314.51,145.06 L315.32,144.83 L316.14,144.60 L316.95,144.37 L317.77,144.14 L318.59,143.91 L319.40,143.67 L320.22,143.43 L321.03,143.20 L321.85,142.96 L322.67,142.72 L323.48,142.47 L324.30,142.23 L325.11,141.98 L325.93,141.73 L326.75,141.48 L327.56,141.23 L328.38,140.97 L329.19,140.72 L330.01,140.46 L330.82,140.19 L331.64,139.93 L332.46,139.66 L333.27,139.39 L334.09,139.11 L334.90,138.84 L335.72,138.56 L336.53,138.27 L337.35,137.98 L338.17,137.69 L338.98,137.40 L339.80,137.10 L340.61,136.80 L341.43,136.49 L342.25,136.18 L343.06,135.86 L343.88,135.54 L344.69,135.22 L345.51,134.89 L346.32,134.55 L347.14,134.21 L347.96,133.86 L348.77,133.51 L349.59,133.16 L350.40,132.79 L351.22,132.42 L352.04,132.05 L352.85,131.66 L353.67,131.28 L354.48,130.88 L355.30,130.48 L356.12,130.07 L356.93,129.65 L357.75,129.23 L358.56,128.79 L359.38,128.35 L360.19,127.91 L361.01,127.45 L361.83,126.99 L362.64,126.51 L363.46,126.03 L364.27,125.54 L365.09,125.04 L365.90,124.54 L366.72,124.02 L367.54,123.50 L368.35,122.96 L369.17,122.42 L369.98,121.87 L370.80,121.31 L371.62,120.74 L372.43,120.16 L373.25,119.57 L374.06,118.97 L374.88,118.37 L375.69,117.75 L376.51,117.13 L377.33,116.50 L378.14,115.86 L378.96,115.21 L379.77,114.56 L380.59,113.90 L381.41,113.23 L382.22,112.55 L383.04,111.87 L383.85,111.18 L384.67,110.48 L385.49,109.78 L386.30,109.08 L387.12,108.37 L387.93,107.66 L388.75,106.94 L389.56,106.22 L390.38,105.49 L391.20,104.77 L392.01,104.04 L392.83,103.31 L393.64,102.58 L394.46,101.85 L395.27,101.13 L396.09,100.40 L396.91,99.67 L397.72,98.95 L398.54,98.22 L399.35,97.50 L400.17,96.79 L400.99,96.08 L401.80,95.37 L402.62,94.66 L403.43,93.97 L404.25,93.27 L405.06,92.59 L405.88,91.91 L406.70,91.23 L407.51,90.57 L408.33,89.91 L409.14,89.26 L409.96,88.61 L410.78,87.98 L411.59,87.35 L412.41,86.73 L413.22,86.12 L414.04,85.51 L414.86,84.92 L415.67,84.34 L416.49,83.76 L417.30,83.19 L418.12,82.64 L418.93,82.09 L419.75,81.55 L420.57,81.02 L421.38,80.50 L422.20,79.98 L423.01,79.48 L423.83,78.99 L424.64,78.50 L425.46,78.02 L426.28,77.55 L427.09,77.09 L427.91,76.64 L428.72,76.19 L429.54,75.76 L430.36,75.33 L431.17,74.90 L431.99,74.49 L432.80,74.08 L433.62,73.68 L434.44,73.29 L435.25,72.90 L436.07,72.52 L436.88,72.15 L437.70,71.78 L438.51,71.42 L439.33,71.07 L440.15,70.72 L440.96,70.37 L441.78,70.04 L442.59,69.70 L443.41,69.37 L444.23,69.05 L445.04,68.73 L445.86,68.42 L446.67,68.11 L447.49,67.80 L448.30,67.50 L449.12,67.20 L449.94,66.91 L450.75,66.62 L451.57,66.34 L452.38,66.05 L453.20,65.77 L454.01,65.50 L454.83,65.22 L455.65,64.95 L456.46,64.69 L457.28,64.42 L458.09,64.16 L458.91,63.90 L459.73,63.64 L460.54,63.39 L461.36,63.14 L462.17,62.89 L462.99,62.64 L463.81,62.39 L464.62,62.15 L465.44,61.91 L466.25,61.67 L467.07,61.43 L467.88,61.19 L468.70,60.95" stroke="#2e8a2e" stroke-width="0.8" fill="none"/>
<path d="M279.4,148.3V157M278.2,148.3h2.4" stroke="#7d8494" stroke-width="0.9" fill="none"/>
<line x1="483.80" y1="39.00" x2="483.80" y2="123.30" stroke="#777" stroke-width="1.3" />
<text x="472.30" y="42.20" font-size="8" fill="#262626" stroke="#262626" stroke-width="0.15" >40</text>
<text x="472.30" y="62.70" font-size="8" fill="#262626" stroke="#262626" stroke-width="0.15" >20</text>
<text x="472.30" y="78.50" font-size="8" fill="#262626" stroke="#262626" stroke-width="0.15" >10</text>
<text x="472.30" y="100.80" font-size="8" fill="#262626" stroke="#262626" stroke-width="0.15" >5</text>
<text x="472.30" y="122.50" font-size="8" fill="#262626" stroke="#262626" stroke-width="0.15" >1</text>
<text x="488.70" y="53.60" font-size="8.3" fill="#262626" stroke="#262626" stroke-width="0.12" textLength="54.5" lengthAdjust="spacingAndGlyphs" transform="rotate(90 488.70 53.60)" >[dextran], mg/ml</text>
<text x="6.80" y="211.10" font-size="11" fill="#111" font-weight="bold" >C</text>
<line x1="35.30" y1="223.50" x2="35.30" y2="353.10" stroke="#2a2a2a" stroke-width="1.2" />
<line x1="32.10" y1="353.00" x2="35.30" y2="353.00" stroke="#2a2a2a" stroke-width="1" />
<text x="29.30" y="355.40" font-size="8" fill="#262626" stroke="#262626" stroke-width="0.12" text-anchor="end" >0</text>
<line x1="32.10" y1="310.70" x2="35.30" y2="310.70" stroke="#2a2a2a" stroke-width="1" />
<text x="29.30" y="313.10" font-size="8" fill="#262626" stroke="#262626" stroke-width="0.12" text-anchor="end" >10</text>
<line x1="32.10" y1="268.40" x2="35.30" y2="268.40" stroke="#2a2a2a" stroke-width="1" />
<text x="29.30" y="270.80" font-size="8" fill="#262626" stroke="#262626" stroke-width="0.12" text-anchor="end" >20</text>
<line x1="32.10" y1="226.10" x2="35.30" y2="226.10" stroke="#2a2a2a" stroke-width="1" />
<text x="29.30" y="228.50" font-size="8" fill="#262626" stroke="#262626" stroke-width="0.12" text-anchor="end" >30</text>
<rect x="43.50" y="317.47" width="15.2" height="35.63" fill="#47566c"/>
<rect x="67.35" y="296.32" width="15.2" height="56.78" fill="#c7c6ca"/>
<rect x="91.20" y="274.32" width="15.2" height="78.78" fill="#30a5e0"/>
<rect x="115.05" y="259.09" width="15.2" height="94.01" fill="#3cab3b"/>
<rect x="138.90" y="239.21" width="15.2" height="113.89" fill="#ca0a2d"/>
<path d="M51.10,309.43V325.50M47.10,309.43h8M47.10,325.50h8" stroke="#111" stroke-width="1" fill="none"/>
<circle cx="51.10" cy="288.70" r="1.35" fill="#111"/>
<circle cx="51.10" cy="314.93" r="1.35" fill="#111"/>
<circle cx="51.10" cy="322.97" r="1.35" fill="#111"/>
<circle cx="51.10" cy="328.47" r="1.35" fill="#111"/>
<circle cx="51.10" cy="333.54" r="1.35" fill="#111"/>
<path d="M74.95,286.59V306.05M70.95,286.59h8M70.95,306.05h8" stroke="#111" stroke-width="1" fill="none"/>
<circle cx="72.45" cy="283.20" r="1.35" fill="#111"/>
<circle cx="77.45" cy="283.20" r="1.35" fill="#111"/>
<circle cx="74.95" cy="300.97" r="1.35" fill="#111"/>
<circle cx="74.95" cy="330.58" r="1.35" fill="#111"/>
<circle cx="74.95" cy="288.70" r="1.35" fill="#111"/>
<path d="M98.80,268.82V279.82M94.80,268.82h8M94.80,279.82h8" stroke="#111" stroke-width="1" fill="none"/>
<circle cx="96.30" cy="267.98" r="1.35" fill="#111"/>
<circle cx="101.30" cy="267.98" r="1.35" fill="#111"/>
<circle cx="98.80" cy="262.90" r="1.35" fill="#111"/>
<circle cx="98.80" cy="271.78" r="1.35" fill="#111"/>
<circle cx="98.80" cy="291.66" r="1.35" fill="#111"/>
<path d="M122.65,254.86V263.32M118.65,254.86h8M118.65,263.32h8" stroke="#111" stroke-width="1" fill="none"/>
<circle cx="120.15" cy="249.79" r="1.35" fill="#111"/>
<circle cx="125.15" cy="249.79" r="1.35" fill="#111"/>
<circle cx="122.65" cy="262.06" r="1.35" fill="#111"/>
<circle cx="122.65" cy="270.09" r="1.35" fill="#111"/>
<circle cx="122.65" cy="255.71" r="1.35" fill="#111"/>
<path d="M146.50,237.10V241.33M142.50,237.10h8M142.50,241.33h8" stroke="#111" stroke-width="1" fill="none"/>
<circle cx="146.50" cy="234.56" r="1.35" fill="#111"/>
<circle cx="144.00" cy="237.94" r="1.35" fill="#111"/>
<circle cx="149.00" cy="237.94" r="1.35" fill="#111"/>
<circle cx="146.50" cy="240.48" r="1.35" fill="#111"/>
<circle cx="146.50" cy="239.21" r="1.35" fill="#111"/>
<line x1="32.10" y1="353.10" x2="162.50" y2="353.10" stroke="#2a2a2a" stroke-width="1.2" />
<line x1="51.10" y1="353.10" x2="51.10" y2="356.10" stroke="#2a2a2a" stroke-width="1" />
<text x="51.10" y="365.80" font-size="8" fill="#262626" stroke="#262626" stroke-width="0.12" text-anchor="middle" >1</text>
<line x1="74.95" y1="353.10" x2="74.95" y2="356.10" stroke="#2a2a2a" stroke-width="1" />
<text x="74.95" y="365.80" font-size="8" fill="#262626" stroke="#262626" stroke-width="0.12" text-anchor="middle" >5</text>
<line x1="98.80" y1="353.10" x2="98.80" y2="356.10" stroke="#2a2a2a" stroke-width="1" />
<text x="98.80" y="365.80" font-size="8" fill="#262626" stroke="#262626" stroke-width="0.12" text-anchor="middle" >10</text>
<line x1="122.65" y1="353.10" x2="122.65" y2="356.10" stroke="#2a2a2a" stroke-width="1" />
<text x="122.65" y="365.80" font-size="8" fill="#262626" stroke="#262626" stroke-width="0.12" text-anchor="middle" >20</text>
<line x1="146.50" y1="353.10" x2="146.50" y2="356.10" stroke="#2a2a2a" stroke-width="1" />
<text x="146.50" y="365.80" font-size="8" fill="#262626" stroke="#262626" stroke-width="0.12" text-anchor="middle" >40</text>
<line x1="48.30" y1="370.70" x2="149.80" y2="370.70" stroke="#333" stroke-width="1.1" />
<text x="73.90" y="382.30" font-size="9.8" fill="#262626" stroke="#262626" stroke-width="0.25" textLength="50.89999999999999" lengthAdjust="spacingAndGlyphs" >[Dextran], mg/ml</text>
<line x1="51.10" y1="212.30" x2="145.70" y2="212.30" stroke="#2a2a2a" stroke-width="1.1" />
<text x="83.80" y="208.80" font-size="7.4" fill="#2a2a2a" stroke="#2a2a2a" stroke-width="0.12" textLength="29.60" lengthAdjust="spacingAndGlyphs"><tspan font-style="italic">P</tspan> = .005</text>
<line x1="74.60" y1="223.90" x2="145.70" y2="223.90" stroke="#2a2a2a" stroke-width="1.1" />
<text x="95.40" y="220.40" font-size="7.4" fill="#2a2a2a" stroke="#2a2a2a" stroke-width="0.12" textLength="30.40" lengthAdjust="spacingAndGlyphs"><tspan font-style="italic">P</tspan> = .038</text>
<line x1="99.50" y1="235.20" x2="145.70" y2="235.20" stroke="#2a2a2a" stroke-width="1.1" />
<text x="106.90" y="231.70" font-size="7.4" fill="#2a2a2a" stroke="#2a2a2a" stroke-width="0.12" textLength="29.60" lengthAdjust="spacingAndGlyphs"><tspan font-style="italic">P</tspan> = .004</text>
<line x1="51.10" y1="246.70" x2="121.90" y2="246.70" stroke="#2a2a2a" stroke-width="1.1" />
<text x="71.80" y="243.20" font-size="7.4" fill="#2a2a2a" stroke="#2a2a2a" stroke-width="0.12" textLength="30.00" lengthAdjust="spacingAndGlyphs"><tspan font-style="italic">P</tspan> = .009</text>
<line x1="72.50" y1="257.80" x2="121.90" y2="257.80" stroke="#2a2a2a" stroke-width="1.1" />
<text x="79.70" y="254.30" font-size="7.4" fill="#2a2a2a" stroke="#2a2a2a" stroke-width="0.12" textLength="29.50" lengthAdjust="spacingAndGlyphs"><tspan font-style="italic">P</tspan> = .037</text>
<line x1="49.20" y1="271.70" x2="93.50" y2="271.70" stroke="#2a2a2a" stroke-width="1.1" />
<text x="56.60" y="268.20" font-size="7.4" fill="#2a2a2a" stroke="#2a2a2a" stroke-width="0.12" textLength="30.00" lengthAdjust="spacingAndGlyphs"><tspan font-style="italic">P</tspan> = .036</text>
<text x="14.80" y="326.90" font-size="8.8" fill="#262626" stroke="#262626" stroke-width="0.2" textLength="78.1" lengthAdjust="spacingAndGlyphs" transform="rotate(-90 14.80 326.90)" >Extent of clot shrinkage, %</text>
<text x="178.00" y="211.10" font-size="11" fill="#111" font-weight="bold" >D</text>
<line x1="215.60" y1="224.20" x2="215.60" y2="353.10" stroke="#2a2a2a" stroke-width="1.2" />
<line x1="212.40" y1="353.00" x2="215.60" y2="353.00" stroke="#2a2a2a" stroke-width="1" />
<text x="209.60" y="355.40" font-size="8" fill="#262626" stroke="#262626" stroke-width="0.12" text-anchor="end" >0</text>
<line x1="212.40" y1="310.73" x2="215.60" y2="310.73" stroke="#2a2a2a" stroke-width="1" />
<text x="209.60" y="313.13" font-size="8" fill="#262626" stroke="#262626" stroke-width="0.12" text-anchor="end" >1000</text>
<line x1="212.40" y1="268.46" x2="215.60" y2="268.46" stroke="#2a2a2a" stroke-width="1" />
<text x="209.60" y="270.86" font-size="8" fill="#262626" stroke="#262626" stroke-width="0.12" text-anchor="end" >2000</text>
<line x1="212.40" y1="226.19" x2="215.60" y2="226.19" stroke="#2a2a2a" stroke-width="1" />
<text x="209.60" y="228.59" font-size="8" fill="#262626" stroke="#262626" stroke-width="0.12" text-anchor="end" >3000</text>
<rect x="224.30" y="253.67" width="15.2" height="99.43" fill="#47566c"/>
<rect x="248.10" y="280.30" width="15.2" height="72.80" fill="#c7c6ca"/>
<rect x="271.90" y="281.14" width="15.2" height="71.96" fill="#30a5e0"/>
<rect x="295.70" y="293.82" width="15.2" height="59.28" fill="#3cab3b"/>
<rect x="319.50" y="303.54" width="15.2" height="49.56" fill="#ca0a2d"/>
<path d="M231.90,246.48V260.85M227.90,246.48h8M227.90,260.85h8" stroke="#111" stroke-width="1" fill="none"/>
<circle cx="231.90" cy="233.80" r="1.35" fill="#111"/>
<circle cx="231.90" cy="243.94" r="1.35" fill="#111"/>
<circle cx="230.10" cy="259.58" r="1.35" fill="#111"/>
<circle cx="233.70" cy="259.58" r="1.35" fill="#111"/>
<circle cx="231.90" cy="271.00" r="1.35" fill="#111"/>
<path d="M255.70,271.00V289.60M251.70,271.00h8M251.70,289.60h8" stroke="#111" stroke-width="1" fill="none"/>
<circle cx="255.70" cy="247.75" r="1.35" fill="#111"/>
<circle cx="255.70" cy="274.38" r="1.35" fill="#111"/>
<circle cx="255.70" cy="294.24" r="1.35" fill="#111"/>
<circle cx="255.70" cy="300.16" r="1.35" fill="#111"/>
<circle cx="255.70" cy="296.78" r="1.35" fill="#111"/>
<path d="M279.50,273.53V288.75M275.50,273.53h8M275.50,288.75h8" stroke="#111" stroke-width="1" fill="none"/>
<circle cx="279.50" cy="264.66" r="1.35" fill="#111"/>
<circle cx="279.50" cy="270.15" r="1.35" fill="#111"/>
<circle cx="279.50" cy="298.05" r="1.35" fill="#111"/>
<circle cx="279.50" cy="307.35" r="1.35" fill="#111"/>
<path d="M303.30,285.79V301.85M299.30,285.79h8M299.30,301.85h8" stroke="#111" stroke-width="1" fill="none"/>
<circle cx="303.30" cy="274.38" r="1.35" fill="#111"/>
<circle cx="303.30" cy="279.45" r="1.35" fill="#111"/>
<circle cx="303.30" cy="304.39" r="1.35" fill="#111"/>
<circle cx="303.30" cy="315.38" r="1.35" fill="#111"/>
<path d="M327.10,292.98V314.11M323.10,292.98h8M323.10,314.11h8" stroke="#111" stroke-width="1" fill="none"/>
<circle cx="327.10" cy="268.88" r="1.35" fill="#111"/>
<circle cx="327.10" cy="309.04" r="1.35" fill="#111"/>
<circle cx="327.10" cy="314.11" r="1.35" fill="#111"/>
<circle cx="327.10" cy="330.60" r="1.35" fill="#111"/>
<line x1="212.40" y1="353.10" x2="343.50" y2="353.10" stroke="#2a2a2a" stroke-width="1.2" />
<line x1="231.90" y1="353.10" x2="231.90" y2="356.10" stroke="#2a2a2a" stroke-width="1" />
<text x="231.90" y="365.80" font-size="8" fill="#262626" stroke="#262626" stroke-width="0.12" text-anchor="middle" >1</text>
<line x1="255.70" y1="353.10" x2="255.70" y2="356.10" stroke="#2a2a2a" stroke-width="1" />
<text x="255.70" y="365.80" font-size="8" fill="#262626" stroke="#262626" stroke-width="0.12" text-anchor="middle" >5</text>
<line x1="279.50" y1="353.10" x2="279.50" y2="356.10" stroke="#2a2a2a" stroke-width="1" />
<text x="279.50" y="365.80" font-size="8" fill="#262626" stroke="#262626" stroke-width="0.12" text-anchor="middle" >10</text>
<line x1="303.30" y1="353.10" x2="303.30" y2="356.10" stroke="#2a2a2a" stroke-width="1" />
<text x="303.30" y="365.80" font-size="8" fill="#262626" stroke="#262626" stroke-width="0.12" text-anchor="middle" >20</text>
<line x1="327.10" y1="353.10" x2="327.10" y2="356.10" stroke="#2a2a2a" stroke-width="1" />
<text x="327.10" y="365.80" font-size="8" fill="#262626" stroke="#262626" stroke-width="0.12" text-anchor="middle" >40</text>
<line x1="229.50" y1="370.70" x2="331.30" y2="370.70" stroke="#333" stroke-width="1.1" />
<text x="255.00" y="382.30" font-size="9.8" fill="#262626" stroke="#262626" stroke-width="0.25" textLength="50.80000000000001" lengthAdjust="spacingAndGlyphs" >[Dextran], mg/ml</text>
<line x1="232.50" y1="228.50" x2="327.00" y2="228.50" stroke="#2a2a2a" stroke-width="1.1" />
<text x="264.50" y="225.00" font-size="7.4" fill="#2a2a2a" stroke="#2a2a2a" stroke-width="0.12" textLength="30.00" lengthAdjust="spacingAndGlyphs"><tspan font-style="italic">P</tspan> = .014</text>
<text x="186.30" y="305.30" font-size="8.8" fill="#262626" stroke="#262626" stroke-width="0.2" textLength="33.8" lengthAdjust="spacingAndGlyphs" transform="rotate(-90 186.30 305.30)" >Lag time, s</text>
<text x="358.30" y="211.10" font-size="11" fill="#111" font-weight="bold" >E</text>
<line x1="382.60" y1="223.20" x2="382.60" y2="353.10" stroke="#2a2a2a" stroke-width="1.2" />
<line x1="379.40" y1="353.10" x2="382.60" y2="353.10" stroke="#2a2a2a" stroke-width="1" />
<text x="376.60" y="355.50" font-size="8" fill="#262626" stroke="#262626" stroke-width="0.12" text-anchor="end" >0</text>
<line x1="379.40" y1="322.30" x2="382.60" y2="322.30" stroke="#2a2a2a" stroke-width="1" />
<text x="376.60" y="324.70" font-size="8" fill="#262626" stroke="#262626" stroke-width="0.12" text-anchor="end" >2</text>
<line x1="379.40" y1="291.50" x2="382.60" y2="291.50" stroke="#2a2a2a" stroke-width="1" />
<text x="376.60" y="293.90" font-size="8" fill="#262626" stroke="#262626" stroke-width="0.12" text-anchor="end" >4</text>
<line x1="379.40" y1="260.70" x2="382.60" y2="260.70" stroke="#2a2a2a" stroke-width="1" />
<text x="376.60" y="263.10" font-size="8" fill="#262626" stroke="#262626" stroke-width="0.12" text-anchor="end" >6</text>
<line x1="379.40" y1="229.90" x2="382.60" y2="229.90" stroke="#2a2a2a" stroke-width="1" />
<text x="376.60" y="232.30" font-size="8" fill="#262626" stroke="#262626" stroke-width="0.12" text-anchor="end" >8</text>
<rect x="391.20" y="320.14" width="16.0" height="32.96" fill="#47566c"/>
<rect x="415.56" y="294.58" width="16.0" height="58.52" fill="#c7c6ca"/>
<rect x="439.92" y="273.79" width="16.0" height="79.31" fill="#30a5e0"/>
<rect x="464.28" y="259.16" width="16.0" height="93.94" fill="#3cab3b"/>
<rect x="488.64" y="239.14" width="16.0" height="113.96" fill="#ca0a2d"/>
<path d="M399.20,311.67V328.61M395.20,311.67h8M395.20,328.61h8" stroke="#111" stroke-width="1" fill="none"/>
<circle cx="399.20" cy="289.19" r="1.35" fill="#111"/>
<circle cx="399.20" cy="314.60" r="1.35" fill="#111"/>
<circle cx="399.20" cy="323.84" r="1.35" fill="#111"/>
<circle cx="399.20" cy="333.08" r="1.35" fill="#111"/>
<circle cx="399.20" cy="337.70" r="1.35" fill="#111"/>
<path d="M423.56,284.57V304.59M419.56,284.57h8M419.56,304.59h8" stroke="#111" stroke-width="1" fill="none"/>
<circle cx="423.56" cy="281.49" r="1.35" fill="#111"/>
<circle cx="423.56" cy="299.97" r="1.35" fill="#111"/>
<circle cx="423.56" cy="330.77" r="1.35" fill="#111"/>
<circle cx="423.56" cy="286.88" r="1.35" fill="#111"/>
<circle cx="423.56" cy="296.12" r="1.35" fill="#111"/>
<path d="M447.92,269.17V278.41M443.92,269.17h8M443.92,278.41h8" stroke="#111" stroke-width="1" fill="none"/>
<circle cx="445.42" cy="269.94" r="1.35" fill="#111"/>
<circle cx="450.42" cy="269.94" r="1.35" fill="#111"/>
<circle cx="447.92" cy="265.32" r="1.35" fill="#111"/>
<circle cx="447.92" cy="277.64" r="1.35" fill="#111"/>
<circle cx="447.92" cy="288.42" r="1.35" fill="#111"/>
<path d="M472.28,254.54V263.78M468.28,254.54h8M468.28,263.78h8" stroke="#111" stroke-width="1" fill="none"/>
<circle cx="469.78" cy="254.54" r="1.35" fill="#111"/>
<circle cx="474.78" cy="254.54" r="1.35" fill="#111"/>
<circle cx="472.28" cy="251.46" r="1.35" fill="#111"/>
<circle cx="472.28" cy="265.32" r="1.35" fill="#111"/>
<circle cx="472.28" cy="271.48" r="1.35" fill="#111"/>
<path d="M496.64,237.29V240.99M492.64,237.29h8M492.64,240.99h8" stroke="#111" stroke-width="1" fill="none"/>
<circle cx="496.64" cy="233.75" r="1.35" fill="#111"/>
<circle cx="494.14" cy="239.14" r="1.35" fill="#111"/>
<circle cx="499.14" cy="239.14" r="1.35" fill="#111"/>
<circle cx="496.64" cy="243.76" r="1.35" fill="#111"/>
<circle cx="496.64" cy="240.68" r="1.35" fill="#111"/>
<line x1="379.40" y1="353.10" x2="513.00" y2="353.10" stroke="#2a2a2a" stroke-width="1.2" />
<line x1="399.20" y1="353.10" x2="399.20" y2="356.10" stroke="#2a2a2a" stroke-width="1" />
<text x="399.20" y="365.80" font-size="8" fill="#262626" stroke="#262626" stroke-width="0.12" text-anchor="middle" >1</text>
<line x1="423.56" y1="353.10" x2="423.56" y2="356.10" stroke="#2a2a2a" stroke-width="1" />
<text x="423.56" y="365.80" font-size="8" fill="#262626" stroke="#262626" stroke-width="0.12" text-anchor="middle" >5</text>
<line x1="447.92" y1="353.10" x2="447.92" y2="356.10" stroke="#2a2a2a" stroke-width="1" />
<text x="447.92" y="365.80" font-size="8" fill="#262626" stroke="#262626" stroke-width="0.12" text-anchor="middle" >10</text>
<line x1="472.28" y1="353.10" x2="472.28" y2="356.10" stroke="#2a2a2a" stroke-width="1" />
<text x="472.28" y="365.80" font-size="8" fill="#262626" stroke="#262626" stroke-width="0.12" text-anchor="middle" >20</text>
<line x1="496.64" y1="353.10" x2="496.64" y2="356.10" stroke="#2a2a2a" stroke-width="1" />
<text x="496.64" y="365.80" font-size="8" fill="#262626" stroke="#262626" stroke-width="0.12" text-anchor="middle" >40</text>
<line x1="395.20" y1="370.70" x2="500.20" y2="370.70" stroke="#333" stroke-width="1.1" />
<text x="423.50" y="382.30" font-size="9.8" fill="#262626" stroke="#262626" stroke-width="0.25" textLength="49.80000000000001" lengthAdjust="spacingAndGlyphs" >[Dextran], mg/ml</text>
<line x1="401.30" y1="211.00" x2="490.80" y2="211.00" stroke="#2a2a2a" stroke-width="1.1" />
<text x="428.80" y="207.50" font-size="7.4" fill="#2a2a2a" stroke="#2a2a2a" stroke-width="0.12" textLength="33.70" lengthAdjust="spacingAndGlyphs"><tspan font-style="italic">P</tspan> &lt; .0001</text>
<line x1="423.00" y1="222.90" x2="495.70" y2="222.90" stroke="#2a2a2a" stroke-width="1.1" />
<text x="442.50" y="219.40" font-size="7.4" fill="#2a2a2a" stroke="#2a2a2a" stroke-width="0.12" textLength="33.00" lengthAdjust="spacingAndGlyphs"><tspan font-style="italic">P</tspan> &lt; .0001</text>
<line x1="444.60" y1="235.10" x2="490.80" y2="235.10" stroke="#2a2a2a" stroke-width="1.1" />
<text x="452.50" y="231.60" font-size="7.4" fill="#2a2a2a" stroke="#2a2a2a" stroke-width="0.12" textLength="29.50" lengthAdjust="spacingAndGlyphs"><tspan font-style="italic">P</tspan> = .011</text>
<line x1="401.30" y1="247.00" x2="472.60" y2="247.00" stroke="#2a2a2a" stroke-width="1.1" />
<text x="419.50" y="243.50" font-size="7.4" fill="#2a2a2a" stroke="#2a2a2a" stroke-width="0.12" textLength="33.50" lengthAdjust="spacingAndGlyphs"><tspan font-style="italic">P</tspan> &lt; .0001</text>
<line x1="418.80" y1="258.80" x2="467.00" y2="258.80" stroke="#2a2a2a" stroke-width="1.1" />
<text x="427.50" y="255.30" font-size="7.4" fill="#2a2a2a" stroke="#2a2a2a" stroke-width="0.12" textLength="29.50" lengthAdjust="spacingAndGlyphs"><tspan font-style="italic">P</tspan> = .011</text>
<line x1="397.00" y1="271.80" x2="442.50" y2="271.80" stroke="#2a2a2a" stroke-width="1.1" />
<text x="402.00" y="268.30" font-size="7.4" fill="#2a2a2a" stroke="#2a2a2a" stroke-width="0.12" textLength="34.30" lengthAdjust="spacingAndGlyphs"><tspan font-style="italic">P</tspan> = .0007</text>
<text x="366.8" y="327.1" font-size="8.8" fill="#262626" stroke="#262626" stroke-width="0.2" transform="rotate(-90 366.8 327.1)"><tspan textLength="68.5" lengthAdjust="spacingAndGlyphs">Average velocity, %/s*10</tspan><tspan font-size="6.2" dy="-3.4" textLength="7.5" lengthAdjust="spacingAndGlyphs">-3</tspan></text>
</svg>
</body></html>
